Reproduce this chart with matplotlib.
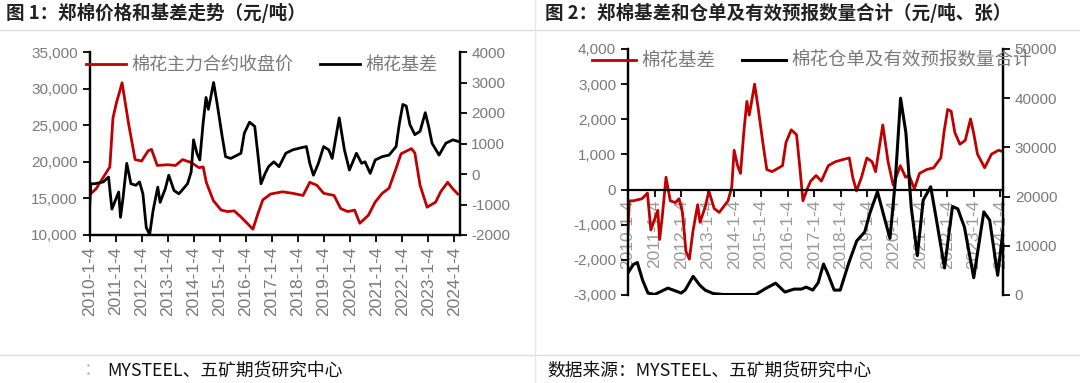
import pandas as pd
import matplotlib
matplotlib.use("Agg")
from matplotlib import pyplot as plt
from matplotlib.ticker import FuncFormatter, FixedLocator

plt.rcParams['font.family'] = ['Noto Sans CJK SC', 'DejaVu Sans']

# 棉花主力合约收盘价 (元/吨), decimal years
price_t = [2010.00, 2010.25, 2010.55, 2010.78, 2010.9, 2011.05, 2011.15, 2011.25, 2011.5, 2011.75,
           2012.0, 2012.25, 2012.38, 2012.6, 2013.0, 2013.3, 2013.57, 2013.9, 2014.2, 2014.36,
           2014.48, 2014.75, 2015.05, 2015.3, 2015.55, 2015.8, 2016.05, 2016.27, 2016.47, 2016.65,
           2016.95, 2017.4, 2017.79, 2018.19, 2018.45, 2018.72, 2018.98, 2019.38, 2019.64, 2019.91,
           2020.17, 2020.37, 2020.7, 2020.96, 2021.23, 2021.49, 2021.76, 2021.95, 2022.35, 2022.48,
           2022.68, 2022.95, 2023.28, 2023.47, 2023.74, 2023.94, 2024.13]
price = [15500, 16300, 18000, 19300, 26000, 28300, 29500, 30800, 25200, 20300,
         20100, 21500, 21700, 19500, 19600, 19500, 20300, 19900, 19200, 19300,
         17200, 14700, 13400, 13200, 13300, 12500, 11600, 10800, 13000, 14800,
         15600, 15900, 15700, 15400, 17200, 16800, 15700, 15400, 13600, 13200,
         13400, 11600, 12700, 14500, 15700, 16400, 19100, 21100, 21800, 21200,
         16800, 13800, 14500, 15900, 17200, 16300, 15600]

# 棉花基差 (元/吨)
basis_t = [2010.00, 2010.05, 2010.2, 2010.53, 2010.73, 2010.86, 2010.99, 2011.12, 2011.19, 2011.29,
           2011.43, 2011.59, 2011.78, 2011.92, 2012.05, 2012.18, 2012.31, 2012.44, 2012.62, 2012.71,
           2012.91, 2013.04, 2013.24, 2013.43, 2013.76, 2013.9, 2013.99, 2014.12, 2014.23, 2014.36,
           2014.47, 2014.56, 2014.65, 2014.76, 2014.89, 2015.09, 2015.22, 2015.42, 2015.81, 2015.94,
           2016.14, 2016.34, 2016.47, 2016.58, 2016.74, 2016.87, 2017.07, 2017.27, 2017.53, 2017.79,
           2018.06, 2018.32, 2018.45, 2018.59, 2018.78, 2018.98, 2019.18, 2019.31, 2019.58, 2019.78,
           2019.97, 2020.24, 2020.44, 2020.57, 2020.77, 2020.96, 2021.23, 2021.49, 2021.76, 2021.89,
           2022.02, 2022.15, 2022.29, 2022.48, 2022.68, 2022.88, 2023.01, 2023.14, 2023.41, 2023.67,
           2023.94, 2024.13]
basis = [-1200, -320, -320, -260, -100, -1150, -870, -590, -1420, -760,
         350, -320, -370, -260, -650, -1760, -1980, -1200, -430, -930,
         -480, -40, -540, -650, -320, 70, 1120, 680, 460, 1680,
         2510, 2120, 2510, 3000, 2340, 1230, 570, 510, 680, 1340,
         1700, 1560, 570, -320, 20, 240, 400, 240, 680, 790,
         850, 900, 350, -40, 350, 900, 790, 510, 1840, 790,
         130, 680, 350, 400, 20, 460, 570, 620, 900, 1680,
         2280, 2230, 1620, 1290, 1400, 2010, 1560, 1010, 620, 1010,
         1120, 1070]

# 棉花仓单及有效预报数量合计 (张)
wr_t = [2010.0, 2010.2, 2010.35, 2010.55, 2010.75, 2011.0, 2011.5, 2012.0, 2012.15, 2012.45,
        2012.7, 2012.9, 2013.2, 2013.6, 2014.0, 2014.8, 2015.2, 2015.55, 2015.9, 2016.25,
        2016.52, 2016.7, 2016.95, 2017.15, 2017.35, 2017.5, 2017.75, 2017.98, 2018.3, 2018.6,
        2018.9, 2019.1, 2019.38, 2019.6, 2019.85, 2020.05, 2020.25, 2020.45, 2020.65, 2020.88,
        2021.1, 2021.38, 2021.6, 2021.9, 2022.2, 2022.4, 2022.65, 2023.0, 2023.38, 2023.6,
        2023.9, 2024.1]
wr = [4500, 6200, 6600, 3000, 400, 100, 1400, 400, 1000, 3800,
      2000, 1000, 300, 100, 100, 100, 1400, 2400, 600, 1200,
      1200, 1600, 1000, 2500, 6300, 4500, 1000, 1000, 6500, 11000,
      12800, 16700, 21000, 16500, 11500, 23000, 40000, 33000, 17900, 8000,
      19300, 22000, 15200, 5500, 18000, 17500, 13800, 3500, 16900, 15200,
      4000, 13000]

years = list(range(2010, 2025))
tick_labels = [f'{y}-1-4' for y in years]


def to_dates(ts):
    return [pd.Timestamp(int(t), 1, 4) + pd.Timedelta(days=(t - int(t)) * 365.25) for t in ts]


RED = '#C00000'
GREY = '#7a7a7a'
TICKFONT = 'Liberation Sans'
ticks = [pd.Timestamp(y, 1, 4) for y in years]

fig = plt.figure(figsize=(10.8, 3.83), dpi=100)
W, H = 1080, 383


def box(l, t, r, b):
    return [l / W, 1 - b / H, (r - l) / W, (b - t) / H]


# page decorations
fig.add_artist(plt.Line2D([0, 1], [1 - 30 / H] * 2, color='#dddddd', lw=1))
fig.add_artist(plt.Line2D([0, 1], [1 - 355 / H] * 2, color='#dddddd', lw=1))
fig.add_artist(plt.Line2D([535 / W] * 2, [0, 1], color='#e6e6e6', lw=1))
fig.text(6 / W, 1 - 13 / H, '图 1：郑棉价格和基差走势（元/吨）', fontsize=13.3, fontweight='bold',
         color='#222222', va='center')
fig.text(545 / W, 1 - 13 / H, '图 2：郑棉基差和仓单及有效预报数量合计（元/吨、张）', fontsize=13.3,
         fontweight='bold', color='#222222', va='center')
fig.text(84 / W, 1 - 370 / H, '：', fontsize=12.8, color='#bbbbbb', va='center')
fig.text(107 / W, 1 - 370 / H, 'MYSTEEL、五矿期货研究中心', fontsize=12.8, color='#111111', va='center')
fig.text(547 / W, 1 - 370 / H, '数据来源：MYSTEEL、五矿期货研究中心', fontsize=12.8, color='#111111',
         va='center')


def style(a, xlabsize):
    for s in a.spines.values():
        s.set_linewidth(1.6)
    a.tick_params(width=1.3, length=5, labelsize=11, colors=GREY)
    a.tick_params(axis='both', color='black')
    for lab in a.get_yticklabels():
        lab.set_fontfamily(TICKFONT)
    for lab in a.get_xticklabels():
        lab.set_fontfamily(TICKFONT)
        lab.set_fontsize(xlabsize)


# ---- chart 1
ax = fig.add_axes(box(89.5, 52, 459.5, 235))
ax2 = ax.twinx()
h1, = ax.plot(to_dates(price_t), price, color=RED, lw=2.0)
h2, = ax2.plot(to_dates(basis_t), basis, color='black', lw=2.0)
ax.set_xlim(pd.Timestamp(2010, 1, 4), pd.Timestamp(2024, 3, 15))
ax.set_ylim(10000, 35000)
ax2.set_ylim(-2000, 4000)
for a in (ax, ax2):
    a.spines['top'].set_visible(False)
ax.yaxis.set_major_locator(FixedLocator(range(10000, 35001, 5000)))
ax.yaxis.set_major_formatter(FuncFormatter(lambda v, p: f'{int(v):,}'))
ax2.yaxis.set_major_locator(FixedLocator(range(-2000, 4001, 1000)))
ax2.yaxis.set_major_formatter(FuncFormatter(lambda v, p: f'{int(v)}'))
ax.set_xticks(ticks)
ax.set_xticklabels(tick_labels, rotation=90)
style(ax, 12.5)
style(ax2, 12.5)
ax2.legend([h1, h2], ['棉花主力合约收盘价', '棉花基差'], loc='upper left',
           bbox_to_anchor=(86 / W, 1 - 56 / H), bbox_transform=fig.transFigure, ncol=2,
           frameon=False, fontsize=13, handlelength=2.2, handletextpad=0.3, columnspacing=1.5,
           borderpad=0, borderaxespad=0, labelcolor=GREY)

# ---- chart 2
bx = fig.add_axes(box(628, 49, 1003, 295))
bx2 = bx.twinx()
g1, = bx.plot(to_dates(basis_t), basis, color=RED, lw=2.0)
g2, = bx2.plot(to_dates(wr_t), wr, color='black', lw=2.2)
bx.set_xlim(pd.Timestamp(2010, 1, 4), pd.Timestamp(2024, 2, 10))
bx.set_ylim(-3000, 4000)
bx2.set_ylim(0, 50000)
for a in (bx, bx2):
    a.spines['top'].set_visible(False)
    a.spines['bottom'].set_position(('data', 0))
bx2.spines['bottom'].set_visible(False)
bx.set_axisbelow(True)
bx.yaxis.set_major_locator(FixedLocator(range(-3000, 4001, 1000)))
bx.yaxis.set_major_formatter(FuncFormatter(lambda v, p: f'{int(v):,}'))
bx2.yaxis.set_major_locator(FixedLocator(range(0, 50001, 10000)))
bx2.yaxis.set_major_formatter(FuncFormatter(lambda v, p: f'{int(v)}'))
bx.set_xticks(ticks)
bx.set_xticklabels(tick_labels, rotation=90)
style(bx, 12.5)
style(bx2, 12.5)
bx.tick_params(axis='x', labelcolor='#9a9a9a', pad=2)
bx2.legend([g1, g2], ['棉花基差', '棉花仓单及有效预报数量合计'], loc='upper left',
           bbox_to_anchor=(592 / W, 1 - 52 / H), bbox_transform=fig.transFigure, ncol=2,
           frameon=False, fontsize=13.3, handlelength=2.4, handletextpad=0.3, columnspacing=1.4,
           borderpad=0, borderaxespad=0, labelcolor=GREY)

fig.savefig('out.png', dpi=100)
